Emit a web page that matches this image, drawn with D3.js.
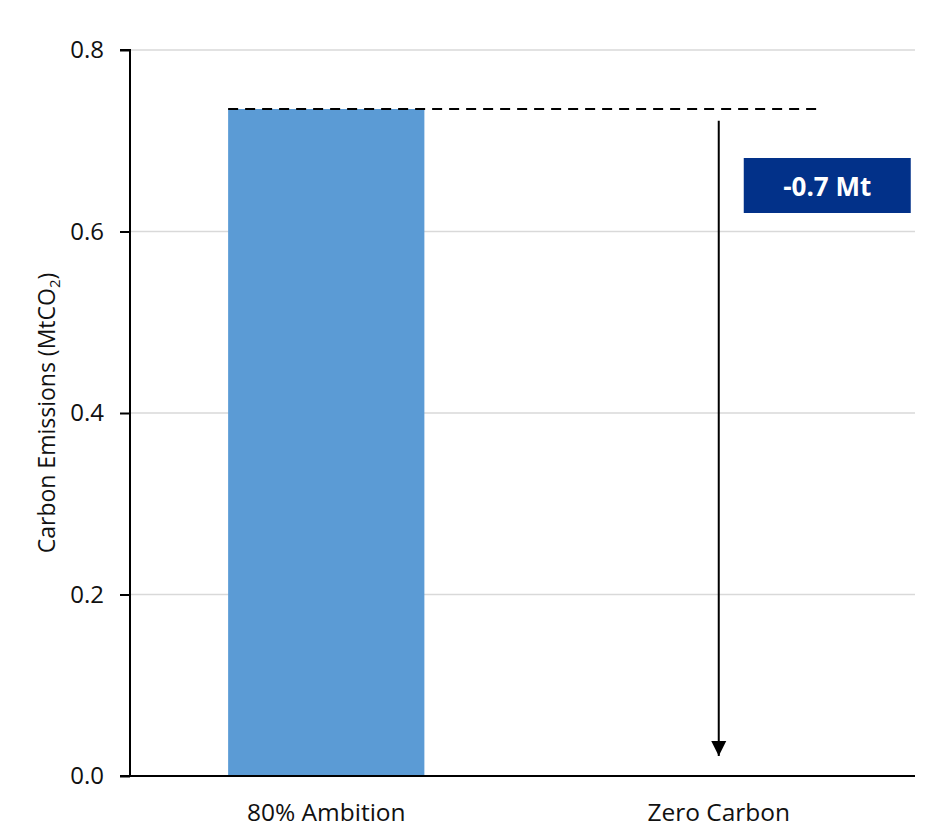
<!DOCTYPE html>
<html><head><meta charset="utf-8">
<script src="https://cdn.jsdelivr.net/npm/d3@7"></script>
<style>body{margin:0;background:#fff}svg{display:block}text{font-family:"Open Sans",sans-serif;fill:#111}</style>
</head><body><svg id="c" width="932" height="827"></svg>
<script>
const categories = ["80% Ambition", "Zero Carbon"];
const values = [0.735, null];
const yTicks = [0, 0.2, 0.4, 0.6, 0.8];
const changeLabel = "-0.7 Mt";
const arrowFrom = 0.722, arrowTo = 0.022;

const svg = d3.select("#c");
const m = {l:130, r:17, t:50, b:51};
const W = 932, H = 827;
const x = d3.scaleBand().domain(categories).range([m.l, W - m.r]).padding(0);
const y = d3.scaleLinear().domain([0, 0.8]).range([H - m.b, m.t]);
const bw = x.bandwidth() * 0.5;

// gridlines
svg.append("g").selectAll("line").data(yTicks.filter(d => d > 0)).join("line")
  .attr("x1", m.l).attr("x2", W - m.r).attr("y1", d => y(d)).attr("y2", d => y(d))
  .attr("stroke", "#d9d9d9").attr("stroke-width", 1.5);

// bars
svg.append("g").selectAll("rect").data(categories.map((c,i)=>({c, v: values[i]})).filter(d=>d.v!=null)).join("rect")
  .attr("x", d => x(d.c) + x.bandwidth()/2 - bw/2).attr("width", bw)
  .attr("y", d => y(d.v)).attr("height", d => y(0) - y(d.v))
  .attr("fill", "#5b9bd5");

// y axis
const ya = svg.append("g").attr("transform", `translate(${m.l},0)`)
  .call(d3.axisLeft(y).tickValues(yTicks).tickFormat(d3.format(".1f")).tickSize(10).tickPadding(16));
ya.select(".domain").attr("stroke", "#000").attr("stroke-width", 2).attr("d", `M-10,${y(0.8)}H0V${y(0)}`);
ya.selectAll(".tick line").attr("stroke", "#000").attr("stroke-width", 2);
ya.selectAll(".tick text").attr("font-size", 24).attr("font-family", '"Open Sans",sans-serif').attr("fill", "#111");

// x axis
const xa = svg.append("g").attr("transform", `translate(0,${y(0)})`)
  .call(d3.axisBottom(x).tickSize(0).tickPadding(28));
xa.select(".domain").attr("stroke", "#000").attr("stroke-width", 2).attr("d", `M${m.l-10},0H${W - m.r}`);
xa.selectAll(".tick text").attr("font-size", 24.5).attr("font-family", '"Open Sans",sans-serif').attr("fill", "#111");

// y title
svg.append("text")
  .attr("transform", `translate(55,${(y(0)+y(0.8))/2}) rotate(-90)`)
  .attr("text-anchor", "middle").attr("font-size", 23)
  .html('Carbon Emissions (MtCO<tspan font-size="15" dy="5">2</tspan><tspan dy="-5">)</tspan>');

// dashed reference line
const c0 = x(categories[0]) + x.bandwidth()/2, c1 = x(categories[1]) + x.bandwidth()/2;
svg.append("line").attr("x1", c0 - bw/2).attr("x2", c1 + bw/2)
  .attr("y1", y(values[0])).attr("y2", y(values[0]))
  .attr("stroke", "#000").attr("stroke-width", 2).attr("stroke-dasharray", "10,7");

// arrow
svg.append("defs").append("marker").attr("id","ah").attr("viewBox","0 0 10 10")
  .attr("refX", 10).attr("refY", 5).attr("markerWidth", 15).attr("markerHeight", 16)
  .attr("markerUnits","userSpaceOnUse").attr("orient","auto")
  .append("path").attr("d","M0,0L10,5L0,10Z").attr("fill","#000");
svg.append("line").attr("x1", c1).attr("x2", c1).attr("y1", y(arrowFrom)).attr("y2", y(arrowTo))
  .attr("stroke", "#000").attr("stroke-width", 2).attr("marker-end", "url(#ah)");

// label box
const g = svg.append("g");
g.append("rect").attr("x", c1 + 25).attr("y", 158).attr("width", 167).attr("height", 55).attr("fill", "#023189");
g.append("text").attr("x", c1 + 25 + 83.5).attr("y", 196).attr("text-anchor","middle")
  .attr("font-size", 26).attr("font-weight", "bold").style("fill","#fff").text(changeLabel);
</script></body></html>
